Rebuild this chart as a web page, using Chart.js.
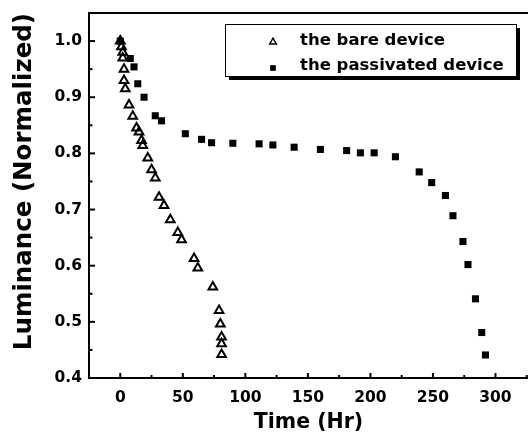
<!DOCTYPE html>
<html>
<head>
<meta charset="utf-8">
<script src="https://cdn.jsdelivr.net/npm/chart.js@4.4.0/dist/chart.umd.min.js"></script>
<style>
  html, body { margin: 0; padding: 0; background: #fff; overflow: hidden; }
  canvas { display: block; }
</style>
</head>
<body>
<canvas id="lumChart" width="528" height="433"></canvas>
<script>
// the bare device (open triangles)
var bareTime = [0, 1, 2, 2, 3, 3, 4, 7, 10, 13, 15, 17, 18, 22, 25, 28, 31, 35, 40, 46, 49, 59, 62, 74, 79, 80, 81, 81, 81];
var bareLum  = [1.0, 0.99, 0.98, 0.97, 0.95, 0.93, 0.915, 0.886, 0.866, 0.845, 0.838, 0.823, 0.814, 0.792, 0.771, 0.756, 0.722, 0.707, 0.682, 0.659, 0.646, 0.613, 0.596, 0.562, 0.52, 0.496, 0.473, 0.461, 0.442];

// the passivated device (filled squares)
var passTime = [0, 8, 11, 14, 19, 28, 33, 52, 65, 73, 90, 111, 122, 139, 160, 181, 192, 203, 220, 239, 249, 260, 266, 274, 278, 284, 289, 292];
var passLum  = [1.0, 0.969, 0.954, 0.924, 0.9, 0.867, 0.858, 0.835, 0.825, 0.819, 0.818, 0.817, 0.815, 0.811, 0.807, 0.805, 0.801, 0.801, 0.794, 0.767, 0.748, 0.725, 0.689, 0.643, 0.602, 0.541, 0.481, 0.441];

var xTicks = [0, 50, 100, 150, 200, 250, 300];
var yTicks = [0.4, 0.5, 0.6, 0.7, 0.8, 0.9, 1.0];

function toPoints(xs, ys) {
  return xs.map(function (x, i) { return { x: x, y: ys[i] }; });
}

// inward ticks (major + minor) and the top frame line
var frameTicks = {
  id: 'frameTicks',
  afterDraw: function (chart) {
    var ctx = chart.ctx, a = chart.chartArea;
    var xs = chart.scales.x, ys = chart.scales.y;
    ctx.save();
    ctx.strokeStyle = '#000';
    ctx.lineWidth = 2;
    ctx.beginPath();
    ctx.moveTo(a.left - 1, a.top);
    ctx.lineTo(a.right, a.top);
    ctx.stroke();
    for (var i = 0; i * 25 <= xs.max; i++) {
      var px = xs.getPixelForValue(i * 25);
      var len = (i % 2 === 0) ? 5 : 3;
      ctx.beginPath();
      ctx.moveTo(px, a.bottom);
      ctx.lineTo(px, a.bottom - len);
      ctx.stroke();
    }
    for (var j = 0; j <= 12; j++) {
      var py = ys.getPixelForValue(0.4 + j * 0.05);
      var l2 = (j % 2 === 0) ? 6 : 3.5;
      ctx.beginPath();
      ctx.moveTo(a.left, py);
      ctx.lineTo(a.left + l2, py);
      ctx.stroke();
    }
    ctx.restore();
  }
};

// boxed legend with drop shadow, inside the plot
var boxLegend = {
  id: 'boxLegend',
  afterDraw: function (chart) {
    var ctx = chart.ctx, a = chart.chartArea;
    var x0 = a.left + 136, y0 = a.top + 11, w = 291, h = 52;
    ctx.save();
    ctx.fillStyle = '#000';
    ctx.fillRect(x0 + 4, y0 + 4, w, h);
    ctx.fillStyle = '#fff';
    ctx.fillRect(x0, y0, w, h);
    ctx.strokeStyle = '#000';
    ctx.lineWidth = 1;
    ctx.strokeRect(x0 + 0.5, y0 + 0.5, w, h);
    ctx.font = 'bold 16.5px "DejaVu Sans"';
    ctx.textBaseline = 'middle';
    ctx.textAlign = 'left';
    chart.data.datasets.forEach(function (ds, i) {
      var my = y0 + 18 + i * 26;
      ctx.fillStyle = ds.backgroundColor;
      ctx.strokeStyle = ds.borderColor;
      ctx.lineWidth = 1.5;
      Chart.helpers.drawPoint(ctx, {
        pointStyle: ds.pointStyle, radius: ds.legendRadius,
        borderWidth: ds.pointStyle === 'triangle' ? 1.5 : 0, rotation: 0
      }, x0 + 48, my);
      ctx.fillStyle = '#000';
      ctx.fillText(ds.label, x0 + 75, y0 + 17 + i * 25);
    });
    ctx.restore();
  }
};

var tickFont = { family: 'DejaVu Sans', weight: 'bold', size: 15.5 };

new Chart(document.getElementById('lumChart'), {
  type: 'scatter',
  data: {
    datasets: [{
      label: 'the bare device',
      data: toPoints(bareTime, bareLum),
      pointStyle: 'triangle',
      pointRadius: 5,
      borderWidth: 2,
      borderColor: '#000',
      backgroundColor: 'rgba(0,0,0,0)',
      legendRadius: 3.8
    }, {
      label: 'the passivated device',
      data: toPoints(passTime, passLum),
      pointStyle: 'rect',
      pointRadius: 5,
      borderWidth: 0,
      borderColor: '#000',
      backgroundColor: '#000',
      legendRadius: 4
    }]
  },
  options: {
    responsive: false,
    animation: false,
    layout: { autoPadding: false, padding: { top: 13, right: 0, bottom: 0, left: 0 } },
    plugins: { legend: { display: false }, tooltip: { enabled: false } },
    scales: {
      x: {
        type: 'linear', min: -25, max: 326,
        grid: { display: false, drawTicks: false },
        border: { display: true, color: '#000', width: 2 },
        afterBuildTicks: function (s) { s.ticks = xTicks.map(function (v) { return { value: v }; }); },
        ticks: { color: '#000', font: tickFont, padding: 11, maxRotation: 0, autoSkip: false },
        title: {
          display: true, text: 'Time (Hr)', color: '#000',
          font: { family: 'DejaVu Sans', weight: 'bold', size: 20.5, lineHeight: 1 },
          padding: { top: 0, bottom: 0 }
        },
        afterFit: function (s) { s.height = 55; s.paddingLeft = 0; s.paddingRight = 0; }
      },
      y: {
        type: 'linear', min: 0.4, max: 1.05,
        grid: { display: false, drawTicks: false },
        border: { display: true, color: '#000', width: 2 },
        afterBuildTicks: function (s) { s.ticks = yTicks.map(function (v) { return { value: v }; }); },
        ticks: {
          color: '#000', font: tickFont, padding: 7, autoSkip: false,
          callback: function (v) { return Number(v).toFixed(1); }
        },
        title: {
          display: true, text: 'Luminance (Normalized)', color: '#000', align: 'end',
          font: { family: 'DejaVu Sans', weight: 'bold', size: 24.5, lineHeight: 1 },
          padding: { top: 12, bottom: 0 }
        },
        afterFit: function (s) { s.width = 89; s.paddingTop = 0; s.paddingBottom = 0; }
      }
    }
  },
  plugins: [frameTicks, boxLegend]
});
</script>
</body>
</html>
